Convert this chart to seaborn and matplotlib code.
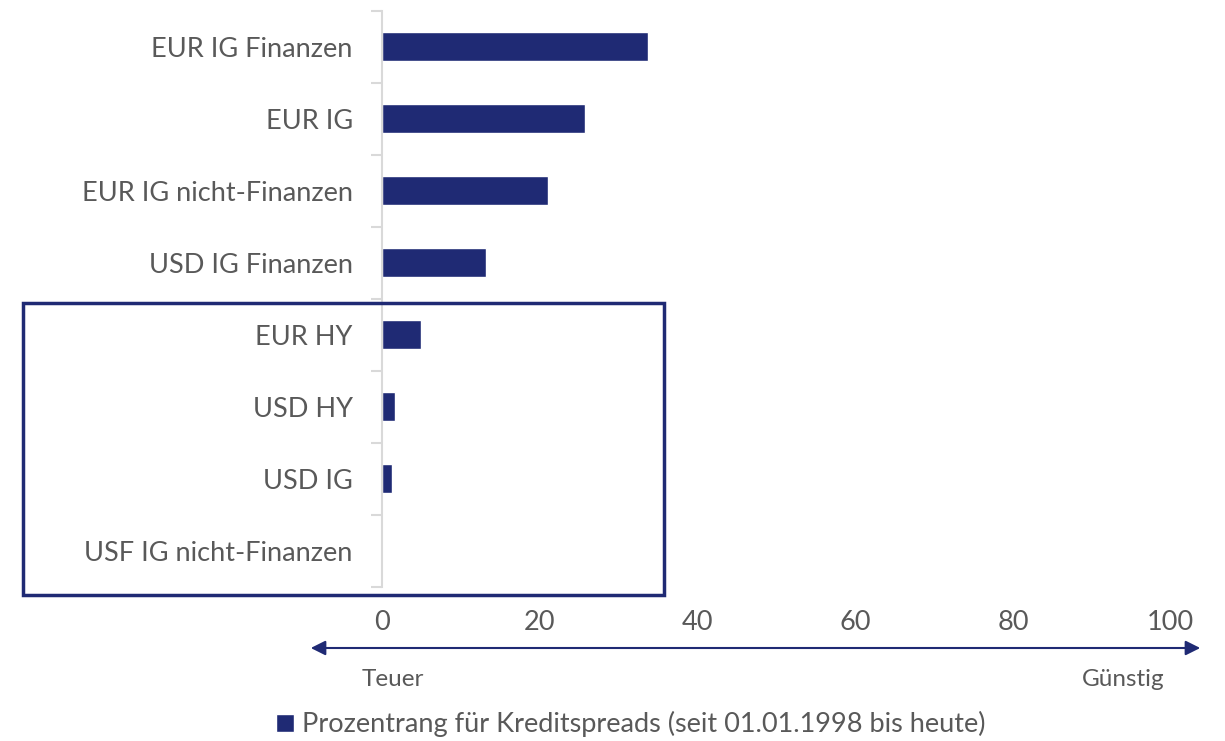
import matplotlib
matplotlib.use("Agg")
import matplotlib.pyplot as plt
import seaborn as sns
import numpy as np
import pandas as pd
from matplotlib.patches import Rectangle, FancyArrowPatch

categories = ["EUR IG Finanzen", "EUR IG", "EUR IG nicht-Finanzen", "USD IG Finanzen",
              "EUR HY", "USD HY", "USD IG", "USF IG nicht-Finanzen"]
values = [33.7, 25.7, 21.0, 13.2, 4.9, 1.7, 1.3, 0.0]
xticks = [0, 20, 40, 60, 80, 100]
legend_label = "Prozentrang für Kreditspreads (seit 01.01.1998 bis heute)"

navy = "#1F2A74"
grey = "#595959"

sns.set_style("white")
plt.rcParams["font.family"] = ["Lato", "DejaVu Sans"]

df = pd.DataFrame({"cat": categories, "val": values})

fig = plt.figure(figsize=(12.25, 7.41), dpi=100)
ax = fig.add_axes([0.3118, 0.2082, 0.644, 0.7774])
sns.barplot(data=df, x="val", y="cat", orient="h", color=navy, width=0.4,
            saturation=1, ax=ax, label=legend_label)

ax.set_xlim(0, 100)
ax.set_ylim(len(categories) - 0.5, -0.5)
ax.set_xlabel("")
ax.set_ylabel("")
ax.set_xticks(xticks)
ax.tick_params(axis="x", length=0, pad=17, labelsize=19.5, labelcolor=grey)
ax.tick_params(axis="y", which="major", left=False, length=0, pad=21, labelsize=19.5, labelcolor=grey)
ax.set_yticks(np.arange(-0.5, len(categories), 1), minor=True)
ax.tick_params(axis="y", which="minor", left=True, direction="out", length=8, width=1.5, color="#D9D9D9")
for s in ["top", "right", "bottom"]:
    ax.spines[s].set_visible(False)
ax.spines["left"].set_color("#D9D9D9")
ax.spines["left"].set_linewidth(1.5)

# box around HY / USD group
fig.patches.append(Rectangle((23 / 1225, 1 - 595 / 741), (664 - 23) / 1225, (595 - 303) / 741,
                             transform=fig.transFigure, fill=False, edgecolor=navy, lw=2.5))

# double arrow under axis
arr = FancyArrowPatch((308 / 1225, 1 - 648 / 741), (1203 / 1225, 1 - 648 / 741),
                      transform=fig.transFigure, arrowstyle="<|-|>", mutation_scale=22,
                      color=navy, lw=1.5)
fig.patches.append(arr)
fig.text(393 / 1225, 1 - 679 / 741, "Teuer", ha="center", va="center", fontsize=17.5, color=grey)
fig.text(1123 / 1225, 1 - 679 / 741, "Günstig", ha="center", va="center", fontsize=17.5, color=grey)

handles, labels = ax.get_legend_handles_labels()
if ax.get_legend():
    ax.get_legend().remove()
fig.legend(handles[:1], labels[:1], loc="center", bbox_to_anchor=(631 / 1225, 1 - 724 / 741),
           frameon=False, fontsize=19.5, labelcolor=grey, handlelength=0.65, handleheight=0.65,
           handletextpad=0.3)

fig.savefig("out.png", dpi=100)
